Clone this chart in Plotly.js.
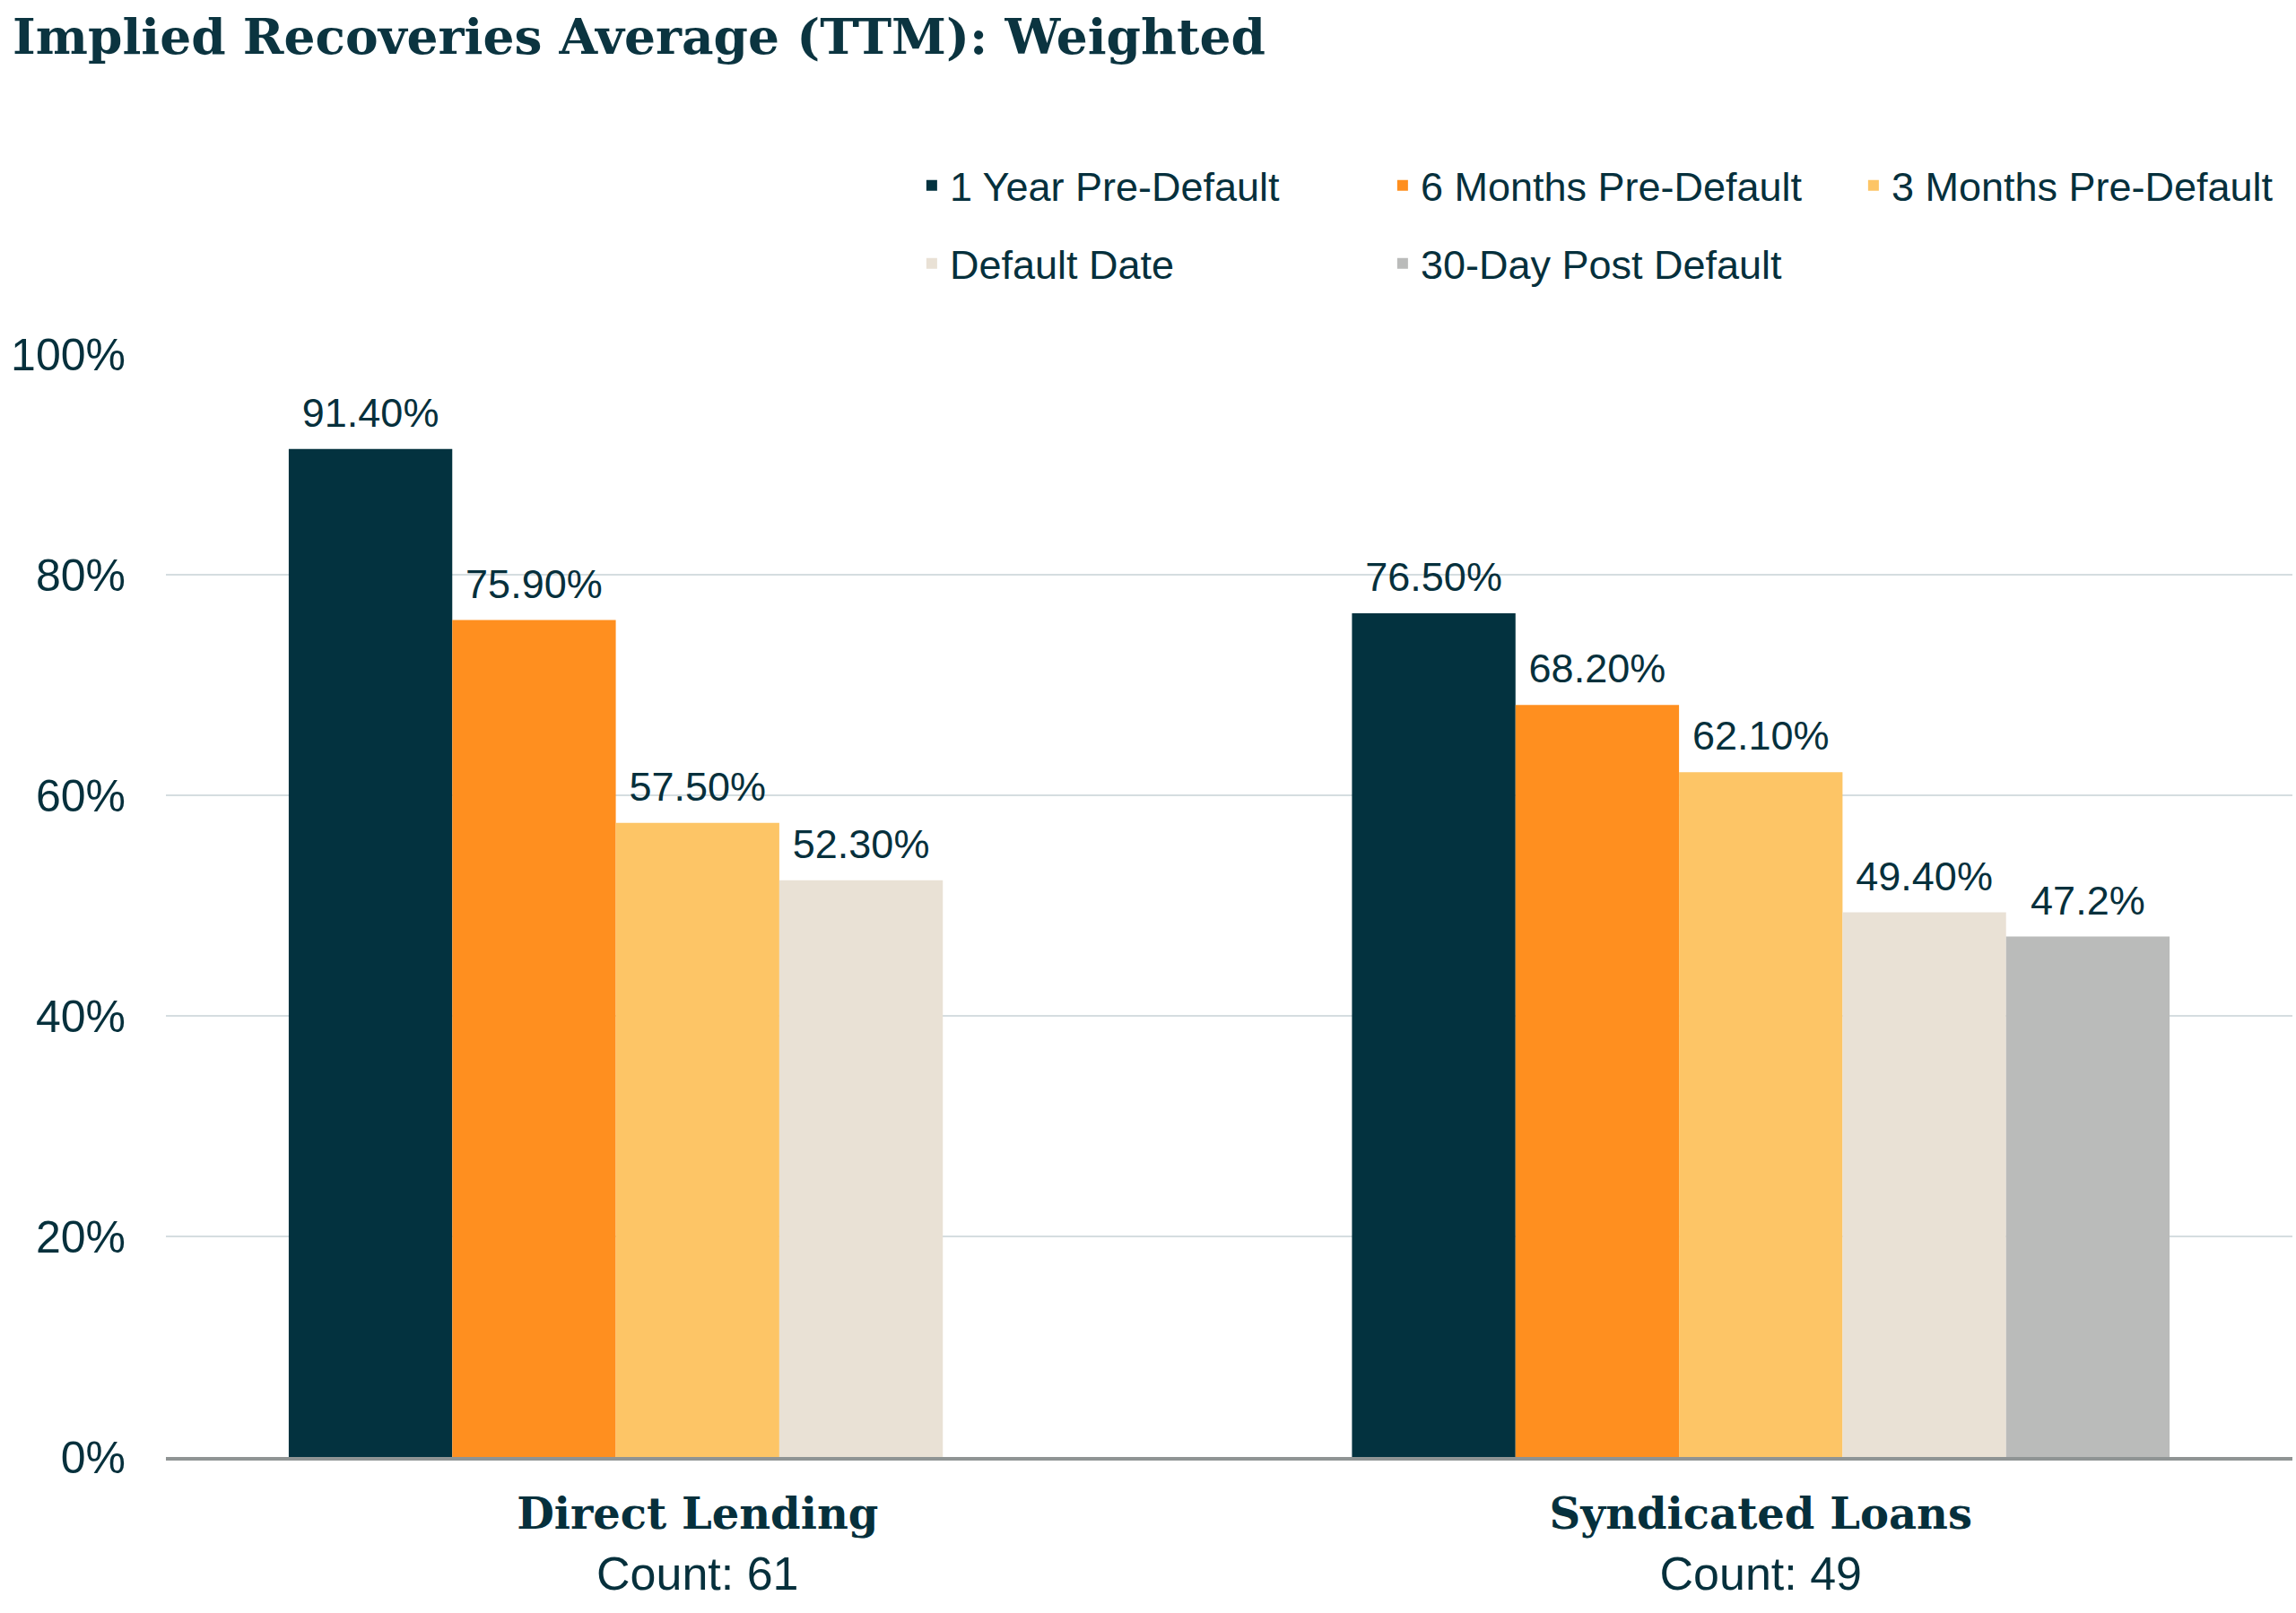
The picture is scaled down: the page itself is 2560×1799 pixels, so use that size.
<!DOCTYPE html>
<html>
<head>
<meta charset="utf-8">
<script src="https://cdn.plot.ly/plotly-3.0.1.min.js"></script>
<style>
  html, body { margin: 0; padding: 0; background: #ffffff; }
  #chart { width: 2560px; height: 1799px; }
</style>
</head>
<body>
<div id="chart"></div>
<script>
// categories and counts
const categories = ['Direct Lending', 'Syndicated Loans'];
const counts = [61, 49];

// series (percent)
const seriesNames = ['1 Year Pre-Default', '6 Months Pre-Default', '3 Months Pre-Default', 'Default Date', '30-Day Post Default'];
const oneYear = [91.4, 76.5];
const sixMonths = [75.9, 68.2];
const threeMonths = [57.5, 62.1];
const defaultDate = [52.3, 49.4];
const postDefault = [null, 47.2];

// data labels as printed on the chart
const oneYearLabels = ['91.40%', '76.50%'];
const sixMonthsLabels = ['75.90%', '68.20%'];
const threeMonthsLabels = ['57.50%', '62.10%'];
const defaultDateLabels = ['52.30%', '49.40%'];
const postDefaultLabels = ['', '47.2%'];

const yTicks = [0, 20, 40, 60, 80, 100];

const colors = ['#03323f', '#ff8f1f', '#fdc566', '#e9e1d5', '#babbba'];
const textColor = '#06303c';
const gap = 0.231;

const values = [oneYear, sixMonths, threeMonths, defaultDate, postDefault];
const labels = [oneYearLabels, sixMonthsLabels, threeMonthsLabels, defaultDateLabels, postDefaultLabels];

const bars = values.map((v, i) => ({
    type: 'bar',
    name: seriesNames[i],
    x: categories,
    y: v,
    offsetgroup: 'g' + i,
    marker: { color: colors[i], line: { width: 0 } },
    legend: i < 3 ? 'legend' : 'legend2',
    hoverinfo: 'skip'
}));

// value labels sit a bit higher than plotly's bar text, so use scatter text in the same offset groups
const valueText = values.map((v, i) => ({
    type: 'scatter',
    mode: 'markers+text',
    x: categories,
    y: v,
    text: labels[i],
    textposition: 'top center',
    textfont: { family: 'Liberation Sans, Arial, sans-serif', size: 45, color: textColor },
    marker: { size: 20, color: 'rgba(0,0,0,0)' },
    offsetgroup: 'g' + i,
    cliponaxis: false,
    showlegend: false,
    hoverinfo: 'skip'
}));

const tickText = categories.map((c, i) =>
    '<span style="font-family:DejaVu Serif;font-weight:bold;font-size:48px">' + c + '</span><br>Count: ' + counts[i]);

const legendCommon = {
    orientation: 'h',
    xref: 'container',
    yref: 'container',
    xanchor: 'left',
    yanchor: 'middle',
    x: 0.398,
    entrywidthmode: 'pixels',
    entrywidth: 480,
    font: { family: 'Liberation Sans, Arial, sans-serif', size: 45, color: textColor },
    bgcolor: 'rgba(0,0,0,0)',
    traceorder: 'normal'
};

const layout = {
    width: 2560,
    height: 1799,
    paper_bgcolor: '#ffffff',
    plot_bgcolor: '#ffffff',
    barmode: 'group',
    bargap: gap,
    bargroupgap: 0,
    scattermode: 'group',
    scattergap: gap,
    showlegend: true,
    title: {
        text: '<b>Implied Recoveries Average (TTM): Weighted</b>',
        font: { family: 'DejaVu Serif, serif', size: 55, color: '#0b3440' },
        xref: 'container',
        yref: 'container',
        x: 14 / 2560,
        xanchor: 'left',
        y: 1 - 41 / 1799,
        yanchor: 'middle'
    },
    legend: Object.assign({}, legendCommon, { y: 1 - 207 / 1799 }),
    legend2: Object.assign({}, legendCommon, { y: 1 - 294 / 1799 }),
    xaxis: {
        type: 'category',
        tickvals: categories,
        ticktext: tickText,
        tickfont: { family: 'Liberation Sans, Arial, sans-serif', size: 52, color: textColor },
        showgrid: false,
        showline: true,
        linecolor: '#8f9494',
        linewidth: 4,
        ticks: '',
        ticklabelstandoff: 14,
        fixedrange: true
    },
    yaxis: {
        range: [0, 100],
        tickvals: yTicks,
        ticktext: yTicks.map(t => t + '%'),
        tickfont: { family: 'Liberation Sans, Arial, sans-serif', size: 50, color: textColor },
        showgrid: true,
        gridcolor: '#d5dde0',
        gridwidth: 2,
        zeroline: false,
        showline: false,
        ticks: '',
        ticklabelstandoff: 44,
        fixedrange: true
    },
    margin: { l: 185, r: 4, t: 395, b: 174 }
};

Plotly.newPlot('chart', bars.concat(valueText), layout, { displayModeBar: false, staticPlot: true });
</script>
</body>
</html>
